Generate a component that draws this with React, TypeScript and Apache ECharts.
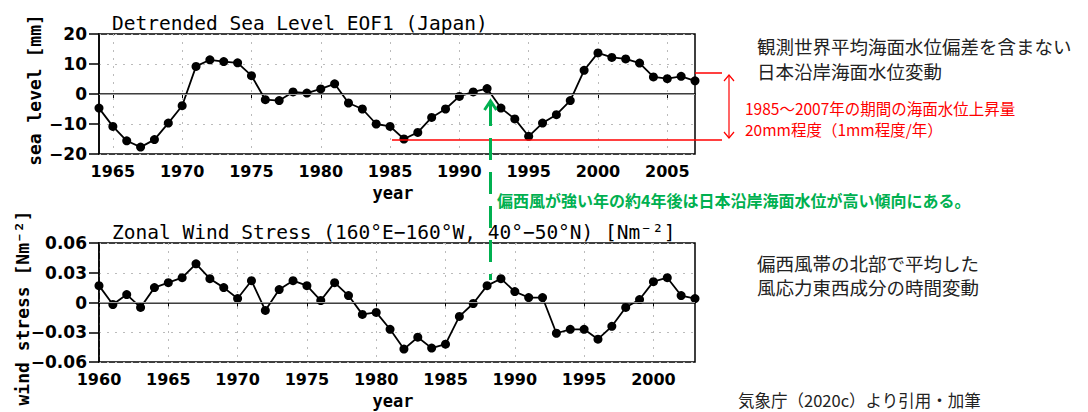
import React, { useEffect, useRef } from "react";
import * as echarts from "echarts";

const seaYears = [
  "1964","1965","1966","1967","1968","1969","1970","1971","1972","1973",
  "1974","1975","1976","1977","1978","1979","1980","1981","1982","1983",
  "1984","1985","1986","1987","1988","1989","1990","1991","1992","1993",
  "1994","1995","1996","1997","1998","1999","2000","2001","2002","2003",
  "2004","2005","2006","2007",
];
const seaLevel = [
  -4.7, -10.8, -15.6, -17.7, -15.2, -9.7, -3.9, 9.2, 11.4, 10.8,
  10.4, 6.1, -1.9, -2.2, 0.7, 0.3, 1.7, 3.4, -3.0, -5.0,
  -10.0, -10.8, -15.0, -12.8, -7.8, -5.0, -0.8, 0.7, 1.8, -4.7,
  -8.3, -14.1, -9.7, -6.9, -2.2, 7.9, 13.7, 12.2, 11.7, 10.3,
  5.7, 5.1, 5.9, 4.4,
];
const windYears = [
  "1960","1961","1962","1963","1964","1965","1966","1967","1968","1969",
  "1970","1971","1972","1973","1974","1975","1976","1977","1978","1979",
  "1980","1981","1982","1983","1984","1985","1986","1987","1988","1989",
  "1990","1991","1992","1993","1994","1995","1996","1997","1998","1999",
  "2000","2001","2002","2003",
];
const windStress = [
  0.017, -0.002, 0.008, -0.005, 0.015, 0.020, 0.025, 0.039, 0.024, 0.015,
  0.004, 0.022, -0.008, 0.013, 0.022, 0.017, 0.002, 0.020, 0.007, -0.012,
  -0.010, -0.027, -0.047, -0.035, -0.046, -0.042, -0.014, -0.001, 0.017, 0.024,
  0.011, 0.005, 0.005, -0.031, -0.027, -0.027, -0.037, -0.024, -0.005, 0.003,
  0.021, 0.025, 0.007, 0.004,
];
const seaTicks = { min: -20, max: 20, step: 10 };
const windTicks = { min: -0.06, max: 0.06, step: 0.03 };

const seaTitle = "Detrended Sea Level EOF1 (Japan)";
const windTitle = "Zonal Wind Stress (160°E−160°W, 40°−50°N) [Nm⁻²]";
const seaYLabel = "sea level [mm]";
const windYLabel = "wind stress [Nm⁻²]";
const xLabel = "year";
const noteSeaLines = ["観測世界平均海面水位偏差を含まない", "日本沿岸海面水位変動"];
const noteRiseLines = ["1985～2007年の期間の海面水位上昇量", "20mm程度（1mm程度/年）"];
const noteGreen = "偏西風が強い年の約4年後は日本沿岸海面水位が高い傾向にある。";
const noteWindLines = ["偏西風帯の北部で平均した", "風応力東西成分の時間変動"];
const source = "気象庁（2020c）より引用・加筆";

const every5 = (_i: number, v: string) => Number(v) % 5 === 0;
const fmtNum = (v: number, dec: number) => {
  if (Math.abs(v) < 1e-9) return "0";
  return (v < 0 ? "−" : "") + Math.abs(v).toFixed(dec);
};

const RED = "#ff0000";
const GREEN = "#00b050";
const CJK = "'Noto Sans CJK JP', sans-serif";
const MONO = "'DejaVu Sans Mono', monospace";

function xAxisCfg(idx: number, data: string[]) {
  return {
    type: "category",
    gridIndex: idx,
    data,
    boundaryGap: false,
    axisLine: { show: true, lineStyle: { color: "#000", width: 1.5 } },
    axisTick: { show: true, interval: every5, length: 4, lineStyle: { color: "#000" } },
    axisLabel: {
      interval: every5,
      margin: 9,
      color: "#000",
      fontSize: 16,
      fontWeight: "bold",
      fontFamily: "'DejaVu Sans', sans-serif",
    },
    splitLine: { show: true, interval: every5, lineStyle: { color: "#bbb", type: [2, 6], width: 1 } },
  };
}

function yAxisCfg(idx: number, t: { min: number; max: number; step: number }, dec: number) {
  return {
    type: "value",
    gridIndex: idx,
    min: t.min,
    max: t.max,
    interval: t.step,
    axisLine: { show: true, lineStyle: { color: "#000", width: 1.5 } },
    axisTick: { show: true, length: 10, lineStyle: { color: "#000", width: 1.5 } },
    axisLabel: {
      margin: 12,
      color: "#000",
      fontSize: 17,
      fontWeight: "bold",
      fontFamily: "'DejaVu Sans', sans-serif",
      formatter: (v: number) => fmtNum(v, dec),
    },
    splitLine: { show: true, lineStyle: { color: "#bbb", type: [2, 6], width: 1 } },
  };
}

function lineSeries(idx: number, data: number[]) {
  return {
    type: "line",
    xAxisIndex: idx,
    yAxisIndex: idx,
    data,
    symbol: "circle",
    symbolSize: 9,
    itemStyle: { color: "#000" },
    lineStyle: { color: "#000", width: 1.8 },
    markLine: {
      silent: true,
      symbol: ["none", "none"],
      label: { show: false },
      lineStyle: { color: "#999", type: "solid", width: 1 },
      data: [{ yAxis: 0 }],
    },
    z: 3,
  };
}

function txt(text: string, x: number, y: number, extra: any = {}, style: any = {}) {
  return {
    type: "text",
    x,
    y,
    ...extra,
    style: {
      text,
      fill: "#222",
      fontSize: 18,
      fontFamily: CJK,
      textAlign: "left",
      textVerticalAlign: "middle",
      ...style,
    },
  };
}

export default function App() {
  const ref = useRef<HTMLDivElement>(null);
  useEffect(() => {
    if (!ref.current) return;
    const chart = echarts.init(ref.current, undefined, { renderer: "svg" });
    const graphic: any[] = [
      // titles
      txt(seaTitle, 112, 23, {}, { fontFamily: MONO, fontSize: 19.5, fill: "#000" }),
      txt(windTitle, 112, 232, {}, { fontFamily: MONO, fontSize: 19.5, fill: "#000" }),
      // y labels
      txt(seaYLabel, 34, 90, { rotation: Math.PI / 2 }, { fontFamily: MONO, fontSize: 18, fontWeight: "bold", fill: "#000", textAlign: "center" }),
      txt(windYLabel, 22, 308, { rotation: Math.PI / 2 }, { fontFamily: MONO, fontSize: 18, fontWeight: "bold", fill: "#000", textAlign: "center" }),
      // x labels
      txt(xLabel, 393, 193, {}, { fontFamily: MONO, fontSize: 17, fontWeight: "bold", fill: "#000", textAlign: "center" }),
      txt(xLabel, 393, 401, {}, { fontFamily: MONO, fontSize: 17, fontWeight: "bold", fill: "#000", textAlign: "center" }),
      // notes
      txt(noteSeaLines[0], 757, 46, {}, { fontSize: 18.5 }),
      txt(noteSeaLines[1], 757, 71, {}, { fontSize: 18.5 }),
      txt(noteRiseLines[0], 745, 108, {}, { fontSize: 15.5, fill: RED }),
      txt(noteRiseLines[1], 745, 129, {}, { fontSize: 15.5, fill: RED }),
      txt(noteWindLines[0], 757, 263, {}, { fontSize: 18.5 }),
      txt(noteWindLines[1], 757, 287, {}, { fontSize: 18.5 }),
      txt(source, 738, 400, {}, { fontSize: 16.5 }),
      // red lines and arrow
      { type: "line", shape: { x1: 695, y1: 73, x2: 722, y2: 73 }, style: { stroke: RED, lineWidth: 1.5 }, z: 10 },
      { type: "line", shape: { x1: 392, y1: 140, x2: 722, y2: 140 }, style: { stroke: RED, lineWidth: 1.5 }, z: 10 },
      { type: "line", shape: { x1: 729, y1: 75, x2: 729, y2: 138 }, style: { stroke: RED, lineWidth: 1.2 }, z: 10 },
      { type: "polyline", shape: { points: [[724, 81], [729, 75], [734, 81]] }, style: { stroke: RED, lineWidth: 1.2, fill: "none" }, z: 10 },
      { type: "polyline", shape: { points: [[724, 132], [729, 138], [734, 132]] }, style: { stroke: RED, lineWidth: 1.2, fill: "none" }, z: 10 },
      // green dashed arrow
      { type: "line", shape: { x1: 490.5, y1: 104, x2: 490.5, y2: 280 }, style: { stroke: GREEN, lineWidth: 3, lineDash: [22, 12] }, z: 10 },
      { type: "polyline", shape: { points: [[484.5, 110], [490.5, 101], [496.5, 110]] }, style: { stroke: GREEN, lineWidth: 3, fill: "none" }, z: 10 },
      txt(noteGreen, 497, 200, {}, { fontSize: 16, fontWeight: "bold", fill: GREEN }),
    ];
    chart.setOption({
      animation: false,
      backgroundColor: "#fff",
      grid: [
        { left: 99, top: 34, width: 596, height: 120, show: true, borderColor: "#000", borderWidth: 1.5, backgroundColor: "transparent" },
        { left: 99, top: 243, width: 596, height: 119, show: true, borderColor: "#000", borderWidth: 1.5, backgroundColor: "transparent" },
      ],
      xAxis: [xAxisCfg(0, seaYears), xAxisCfg(1, windYears)],
      yAxis: [yAxisCfg(0, seaTicks, 0), yAxisCfg(1, windTicks, 2)],
      series: [lineSeries(0, seaLevel), lineSeries(1, windStress)],
      graphic,
    });
    return () => chart.dispose();
  }, []);
  return (
    <div
      ref={ref}
      style={{ width: 1088, height: 412, position: "absolute", left: 0, top: 0 }}
    />
  );
}
